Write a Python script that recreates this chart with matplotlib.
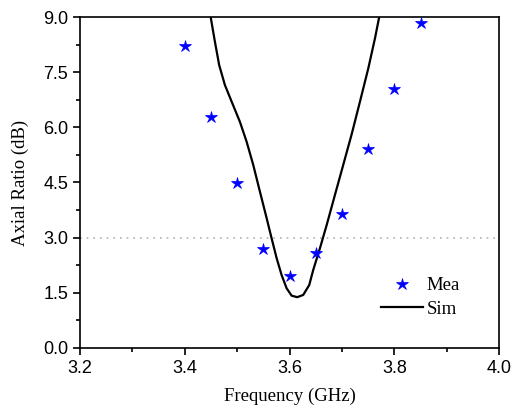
import numpy as np
import matplotlib.pyplot as plt
from matplotlib.ticker import MultipleLocator

# measured axial ratio
mea_freq = [3.40, 3.45, 3.50, 3.55, 3.60, 3.65, 3.70, 3.75, 3.80, 3.85]
mea_ar = [8.20, 6.28, 4.49, 2.68, 1.96, 2.59, 3.64, 5.42, 7.04, 8.84]

# simulated axial ratio
sim_freq = [3.447, 3.4494, 3.4576, 3.4658, 3.4767, 3.4895, 3.5053, 3.5181, 3.5307,
            3.5435, 3.5563, 3.5658, 3.5754, 3.5849, 3.5945, 3.6040, 3.6147, 3.6261,
            3.6376, 3.6452, 3.6580, 3.6708, 3.6866, 3.7025, 3.7185, 3.7344, 3.7502,
            3.7630, 3.7712, 3.774]
sim_ar = [9.3, 9.01, 8.33, 7.69, 7.15, 6.70, 6.15, 5.61, 4.98,
          4.25, 3.53, 2.98, 2.44, 1.98, 1.62, 1.42, 1.38, 1.44,
          1.71, 2.12, 2.71, 3.34, 4.16, 4.98, 5.81, 6.70, 7.60,
          8.42, 9.01, 9.3]

fig = plt.figure(figsize=(5.12, 4.05), dpi=100)
ax = fig.add_axes([0.156, 0.141, 0.819, 0.817])

ax.axhline(3.0, color='#b0b0b0', linestyle=(0, (1, 3)), linewidth=1.2, zorder=1)
ax.plot(mea_freq, mea_ar, linestyle='none', marker='*', markersize=9,
        color='blue', markeredgewidth=0.5, label='Mea', zorder=3)
ax.plot(sim_freq, sim_ar, color='black', linewidth=1.6, label='Sim', zorder=2)

ax.set_xlim(3.2, 4.0)
ax.set_ylim(0, 9.0)
ax.xaxis.set_major_locator(MultipleLocator(0.2))
ax.xaxis.set_minor_locator(MultipleLocator(0.1))
ax.yaxis.set_major_locator(MultipleLocator(1.5))
ax.yaxis.set_minor_locator(MultipleLocator(0.75))
ax.set_xticklabels([f'{v:.1f}' for v in ax.get_xticks()])
ax.set_yticklabels([f'{v:.1f}' for v in ax.get_yticks()])

ax.tick_params(which='both', direction='out', top=False, right=False,
               labelsize=13, width=1.2)
ax.tick_params(which='major', length=5)
ax.tick_params(which='minor', length=3)
for lab in ax.get_xticklabels() + ax.get_yticklabels():
    lab.set_family('Liberation Sans')
for s in ax.spines.values():
    s.set_linewidth(1.2)

ax.set_xlabel('Frequency (GHz)', family='Liberation Serif', fontsize=13.5, labelpad=8)
ax.set_ylabel('Axial Ratio (dB)', family='Liberation Serif', fontsize=13.5, labelpad=10)

ax.legend(loc='lower right', frameon=False, prop={'family': 'Liberation Serif', 'size': 13.5},
          bbox_to_anchor=(0.946, 0.04), handlelength=2.2, handletextpad=0.2,
          labelspacing=0.35)

fig.savefig('out.png', dpi=100)
